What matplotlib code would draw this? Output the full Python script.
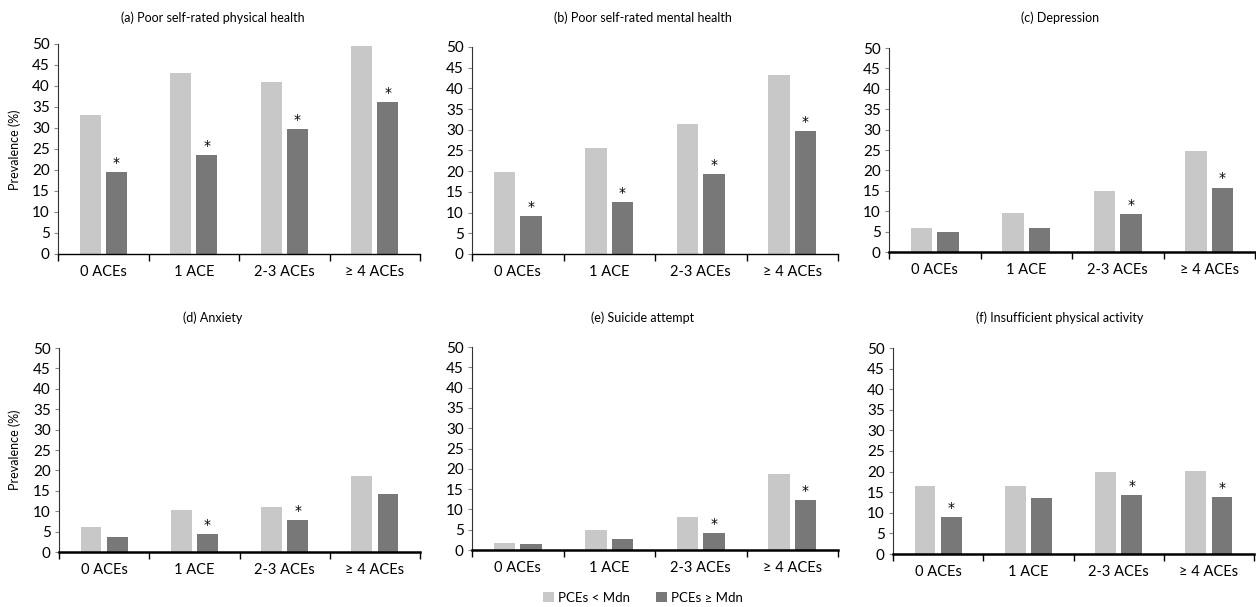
import matplotlib.pyplot as plt
import numpy as np

plt.rcParams['font.family'] = ['Lato', 'DejaVu Sans']

groups = ['0 ACEs', '1 ACE', '2-3 ACEs', '≥ 4 ACEs']
titles = ['(a) Poor self-rated physical health', '(b) Poor self-rated mental health',
          '(c) Depression', '(d) Anxiety', '(e) Suicide attempt',
          '(f) Insufficient physical activity']

# PCEs < Mdn
low_pce = [
    [33.0, 43.2, 41.0, 49.5],
    [19.8, 25.7, 31.3, 43.2],
    [5.8, 9.5, 15.0, 24.7],
    [6.2, 10.4, 11.0, 18.6],
    [1.7, 5.0, 8.2, 18.7],
    [16.5, 16.6, 19.8, 20.2],
]
# PCEs >= Mdn
high_pce = [
    [19.5, 23.6, 29.8, 36.1],
    [9.1, 12.6, 19.3, 29.6],
    [4.8, 6.0, 9.3, 15.8],
    [3.6, 4.4, 7.9, 14.1],
    [1.5, 2.7, 4.1, 12.2],
    [9.0, 13.6, 14.2, 13.9],
]
# significant difference markers (*) on the dark bar
signif = [
    [1, 1, 1, 1],
    [1, 1, 1, 1],
    [0, 0, 1, 1],
    [0, 1, 1, 0],
    [0, 0, 1, 1],
    [1, 0, 1, 1],
]

W, H = 1256, 607
fig = plt.figure(figsize=(W / 100, H / 100), dpi=100)

# axes boxes in pixels: left, right, top, bottom
boxes = [
    (58, 420, 44, 254), (472, 838, 47, 254), (889, 1255, 48, 252),
    (59, 420, 348, 552), (472, 838, 347, 550), (893, 1254, 348, 554),
]
title_pos = [(213, 18), (643, 18), (1060, 18), (213, 318), (643, 318), (1060, 318)]

light = '#C8C8C8'
dark = '#787878'
x = np.arange(len(groups))
bw = 0.23
off = 0.145

for i in range(6):
    l, r, t, b = boxes[i]
    ax = fig.add_axes([l / W, 1 - b / H, (r - l) / W, (b - t) / H])
    b1 = ax.bar(x - off, low_pce[i], bw, color=light, label='PCEs < Mdn')
    b2 = ax.bar(x + off, high_pce[i], bw, color=dark, label='PCEs ≥ Mdn')
    for j in range(len(groups)):
        if signif[i][j]:
            ax.text(x[j] + off, high_pce[i][j] + 0.5, '*', ha='center', va='bottom',
                    fontsize=10, color='black', family='DejaVu Sans')
    ax.set_xlim(-0.5, 3.5)
    ax.set_ylim(0, 50)
    ax.set_yticks(range(0, 51, 5))
    ax.set_xticks(x)
    ax.set_xticklabels(groups, fontsize=10.5)
    ax.tick_params(axis='x', length=0, pad=8)
    # category boundary ticks
    ax.set_xticks(np.arange(-0.5, 3.6, 1), minor=True)
    ax.tick_params(axis='x', which='minor', length=5, direction='out', width=1)
    ax.tick_params(axis='y', length=3, width=0.8, color='#888888', labelsize=11, pad=3)
    ax.spines['top'].set_visible(False)
    ax.spines['right'].set_visible(False)
    ax.spines['left'].set_linewidth(0.8)
    ax.spines['left'].set_color('#333333')
    ax.spines['bottom'].set_linewidth(1.0 if i < 2 else 1.8)
    ax.spines['bottom'].set_color('black')
    tx, ty = title_pos[i]
    fig.text(tx / W, 1 - ty / H, titles[i], ha='center', va='center', fontsize=9)

fig.text(15 / W, 1 - 150 / H, 'Prevalence (%)', rotation=90, ha='center', va='center', fontsize=9)
fig.text(15 / W, 1 - 450 / H, 'Prevalence (%)', rotation=90, ha='center', va='center', fontsize=9)

fig.legend(handles=[b1, b2], loc='center', bbox_to_anchor=(643 / W, 1 - 598 / H), ncol=2,
           frameon=False, fontsize=9.5, handlelength=0.8, handleheight=0.8,
           handletextpad=0.3, columnspacing=2.0)

fig.savefig('out.png', dpi=100)
